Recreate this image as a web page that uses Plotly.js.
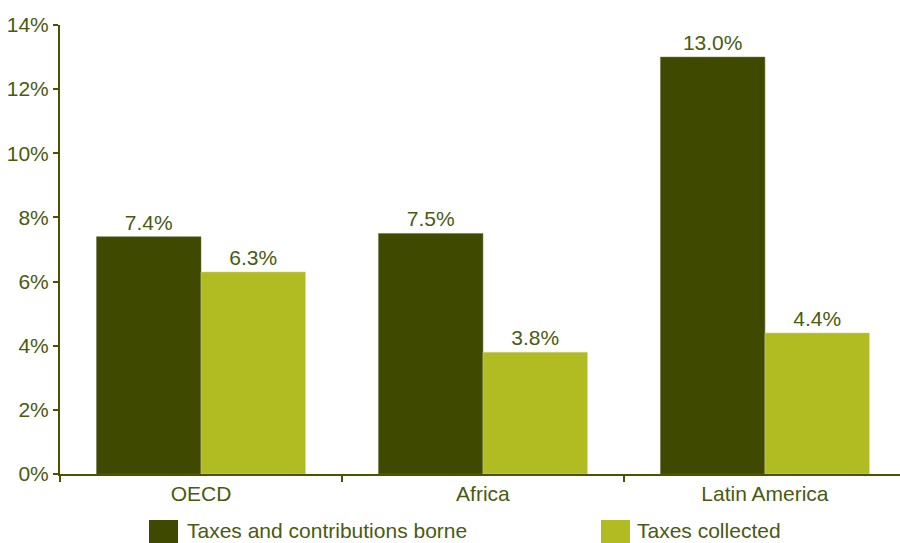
<!DOCTYPE html>
<html>
<head>
<meta charset="utf-8">
<script src="https://cdn.plot.ly/plotly-3.0.1.min.js"></script>
<style>html,body{margin:0;padding:0;background:#fff;}#chart{width:900px;height:543px;}</style>
</head>
<body>
<div id="chart"></div>
<script>
const categories = ["OECD", "Africa", "Latin America"];
const seriesNames = ["Taxes and contributions borne", "Taxes collected"];
const borne = [7.4, 7.5, 13.0];
const collected = [6.3, 3.8, 4.4];
const yTicks = [0, 2, 4, 6, 8, 10, 12, 14];

const darkColor = "#3f4a00";
const lightColor = "#b1bb22";
const textColor = "#4a5a12";
const axisColor = "#4a5400";
const font = "Liberation Sans, Arial, Helvetica, sans-serif";
const fs = 21;

const traces = [
  {type: "bar", name: seriesNames[0], x: categories, y: borne,
   marker: {color: darkColor, line: {color: "#6a7040", width: 0.5}},
   text: borne.map(v => v.toFixed(1) + "%"), textposition: "outside",
   textfont: {family: font, size: fs, color: textColor}, cliponaxis: false,
   hoverinfo: "skip"},
  {type: "bar", name: seriesNames[1], x: categories, y: collected,
   marker: {color: lightColor, line: {color: "#d0d890", width: 0.5}},
   text: collected.map(v => v.toFixed(1) + "%"), textposition: "outside",
   textfont: {family: font, size: fs, color: textColor}, cliponaxis: false,
   hoverinfo: "skip"}
];

function px(x) { return (x - 60) / 840; }
function py(y) { return (474 - y) / 449; }

const layout = {
  width: 900, height: 543,
  margin: {l: 60, r: 0, t: 25, b: 69},
  paper_bgcolor: "#fff", plot_bgcolor: "#fff",
  barmode: "group", bargap: 0.259, bargroupgap: 0,
  showlegend: false,
  font: {family: font, size: fs, color: textColor},
  xaxis: {
    range: [-0.5, 2.479], showgrid: false, zeroline: false,
    showline: true, linecolor: axisColor, linewidth: 2,
    ticks: "outside", tickson: "boundaries", ticklen: 6, tickwidth: 2, tickcolor: axisColor,
    tickfont: {family: font, size: fs, color: textColor}, fixedrange: true
  },
  yaxis: {
    range: [0, 14], tickvals: yTicks, ticktext: yTicks.map(v => v + "%"),
    showgrid: false, zeroline: false,
    showline: true, linecolor: axisColor, linewidth: 2,
    ticks: "outside", ticklen: 5, tickwidth: 2, tickcolor: axisColor,
    tickfont: {family: font, size: fs, color: textColor}, fixedrange: true
  },
  shapes: [
    {type: "rect", xref: "paper", yref: "paper", x0: px(149), x1: px(178), y0: py(548), y1: py(520),
     fillcolor: darkColor, line: {width: 0}},
    {type: "rect", xref: "paper", yref: "paper", x0: px(601), x1: px(630), y0: py(548), y1: py(520),
     fillcolor: lightColor, line: {width: 0}}
  ],
  annotations: [
    {xref: "paper", yref: "paper", x: px(186), y: py(543), xanchor: "left", yanchor: "bottom",
     text: seriesNames[0], showarrow: false, borderpad: 0,
     font: {family: font, size: fs, color: textColor}},
    {xref: "paper", yref: "paper", x: px(636), y: py(543), xanchor: "left", yanchor: "bottom",
     text: seriesNames[1], showarrow: false, borderpad: 0,
     font: {family: font, size: fs, color: textColor}}
  ]
};

Plotly.newPlot("chart", traces, layout, {displayModeBar: false, staticPlot: true});
</script>
</body>
</html>
